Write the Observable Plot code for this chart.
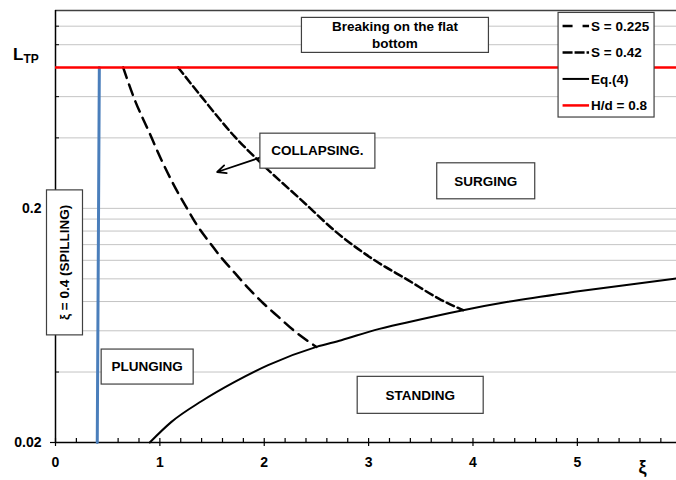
<!DOCTYPE html>
<html><head><meta charset="utf-8">
<script src="https://cdn.jsdelivr.net/npm/d3@7"></script>
<script src="https://cdn.jsdelivr.net/npm/@observablehq/plot@0.6"></script>
<style>body{margin:0;background:#fff} svg{display:block}</style>
</head><body><div id="chart"></div>
<script>
// ---- data ----
const xTicks = [0, 1, 2, 3, 4, 5];
const xMinor = [0.2,0.4,0.6,0.8,1.2,1.4,1.6,1.8,2.2,2.4,2.6,2.8,3.2,3.4,3.6,3.8,4.2,4.4,4.6,4.8,5.2,5.4,5.6,5.8];
const yTicks = [0.02, 0.2];
const yTickLabels = ["0.02", "0.2"];
const yGrid = [0.04,0.06,0.08,0.10,0.12,0.14,0.16,0.18,0.2,0.4,0.6,0.8,1.0,1.2];

const s225X = [0.648,0.760,0.888,1.015,1.143,1.262,1.357,1.485,1.597,1.724,1.852,1.995,2.139,2.283,2.5];
const s225Y = [0.8,0.58,0.432,0.322,0.247,0.1994,0.1692,0.1413,0.122,0.1052,0.0908,0.0783,0.0686,0.0602,0.0512];
const s42X = [1.175,1.398,1.717,1.973,2.356,2.708,3.058,3.378,3.697,3.905];
const s42Y = [0.8,0.60,0.405,0.311,0.217,0.156,0.120,0.0988,0.0812,0.0735];
const eq4X = [0.903,1.111,1.398,1.717,2.037,2.5,2.739,3.058,3.378,3.905,4.336,4.974,5.453,5.95];
const eq4Y = [0.02,0.0245,0.030,0.0363,0.0428,0.0512,0.0547,0.0604,0.0653,0.0735,0.0798,0.088,0.094,0.1003];
const spillX = [0.40, 0.42];
const spillY = [0.02, 0.8];
const hdY = 0.8;

const noteText = [["Breaking on the flat","bottom"],["COLLAPSING."],["SURGING"],["PLUNGING"],["STANDING"],["ξ = 0.4 (SPILLING)"]];
const noteX = [3.257, 2.514, 4.127, 0.883, 3.499, 0.091];
const noteY = [1.096, 0.351, 0.261, 0.042, 0.0318, 0.117];
const arrowFrom = [1.964, 0.330];
const arrowTo = [1.549, 0.286];

const legendLabels = ["S = 0.225", "S = 0.42", "Eq.(4)", "H/d = 0.8"];
const legendAnchor = [4.82, 1.367];

// ---- styles ----
const FONT = "'Liberation Sans', Arial, sans-serif";
const noteSize = [[187,35],[115,35],[98,36],[92,35],[126,37],[36,145]];
const noteRotate = [0,0,0,0,0,-90];
const legendStyles = [
  {stroke:"#000", dash:"10,10", width:2.5},
  {stroke:"#000", dash:"10,2", width:2.5},
  {stroke:"#000", dash:null, width:2},
  {stroke:"#ff0000", dash:null, width:2.5}
];

const rows = (xs, ys) => xs.map((x, i) => ({x, y: ys[i]}));

const plot = Plot.plot({
  width: 676, height: 480,
  marginLeft: 55, marginRight: 0, marginTop: 10, marginBottom: 38,
  x: {domain: [0, 5.95], axis: null},
  y: {type: "log", domain: [0.02, 1.4], axis: null},
  style: {fontFamily: FONT, fontWeight: "bold", color: "#000", background: "#fff"},
  marks: [
    Plot.ruleY(yGrid, {stroke: "#c4c4c4", strokeWidth: 1}),
    Plot.ruleY([1.4], {stroke: "#404040", strokeWidth: 1.5}),
    Plot.axisX({ticks: xMinor, tickSize: -4, tickFormat: () => "", strokeWidth: 1.2}),
    Plot.axisX({ticks: xTicks, tickSize: 4, tickPadding: 11, fontSize: 14, tickFormat: d => String(d), strokeWidth: 1.2}),
    Plot.axisX({ticks: xTicks, tickSize: -4, tickFormat: () => "", strokeWidth: 1.2}),
    Plot.axisY({ticks: yGrid, tickSize: -4, tickFormat: () => "", strokeWidth: 1}),
    Plot.axisY({ticks: yTicks, tickSize: 5, tickPadding: 9, fontSize: 14, tickFormat: d => yTickLabels[yTicks.indexOf(d)], strokeWidth: 1.2}),
    Plot.ruleY([0.02], {stroke: "#000", strokeWidth: 1.5}),
    Plot.ruleX([0], {stroke: "#000", strokeWidth: 1.5}),
    Plot.line(rows(spillX, spillY), {x: "x", y: "y", stroke: "#4a7ebb", strokeWidth: 3}),
    Plot.line(rows(s225X, s225Y), {x: "x", y: "y", stroke: "#000", strokeWidth: 2.5, strokeDasharray: "11,7", curve: "monotone-x"}),
    Plot.line(rows(s42X, s42Y), {x: "x", y: "y", stroke: "#000", strokeWidth: 2.5, strokeDasharray: "8,4", curve: "monotone-x"}),
    Plot.line(rows(eq4X, eq4Y), {x: "x", y: "y", stroke: "#000", strokeWidth: 2, curve: "monotone-x"}),
    Plot.ruleY([hdY], {stroke: "#ff0000", strokeWidth: 2.5}),
    Plot.arrow([{x1: arrowFrom[0], y1: arrowFrom[1], x2: arrowTo[0], y2: arrowTo[1]}],
      {x1: "x1", y1: "y1", x2: "x2", y2: "y2", stroke: "#000", strokeWidth: 1.8, headLength: 8, headAngle: 50, bend: 0})
  ]
});

const xs = plot.scale("x"), ys = plot.scale("y");
const svg = d3.select(plot);

// annotation boxes
const g = svg.append("g").attr("font-family", FONT).attr("font-weight", "bold").attr("font-size", 13.5);
noteText.forEach((lines, i) => {
  const cx = xs.apply(noteX[i]), cy = ys.apply(noteY[i]);
  const [w, h] = noteSize[i];
  const gg = g.append("g").attr("transform", `translate(${cx},${cy})`);
  gg.append("rect").attr("x", -w/2).attr("y", -h/2).attr("width", w).attr("height", h)
    .attr("fill", "#fff").attr("stroke", "#404040").attr("stroke-width", 1.2);
  const t = gg.append("text").attr("text-anchor", "middle").attr("transform", `rotate(${noteRotate[i]})`);
  const lh = 16.5;
  lines.forEach((s, j) => {
    t.append("tspan").attr("x", 0).attr("y", (j - (lines.length - 1) / 2) * lh).attr("dy", "0.35em").text(s);
  });
});

// legend
const lx = xs.apply(legendAnchor[0]), ly = ys.apply(legendAnchor[1]);
const lg = svg.append("g").attr("font-family", FONT).attr("font-weight", "bold").attr("font-size", 13.5)
  .attr("text-anchor", "start")
  .attr("transform", `translate(${lx},${ly})`);
lg.append("rect").attr("x", 0).attr("y", 0).attr("width", 96).attr("height", 104.6)
  .attr("fill", "#fff").attr("stroke", "#404040").attr("stroke-width", 1.2);
legendLabels.forEach((lab, i) => {
  const yy = 13.5 + i * 26.5;
  const st = legendStyles[i];
  lg.append("line").attr("x1", 4.5).attr("x2", 31).attr("y1", yy).attr("y2", yy)
    .attr("stroke", st.stroke).attr("stroke-width", st.width).attr("stroke-dasharray", st.dash);
  lg.append("text").attr("x", 33).attr("y", yy).attr("dy", "0.35em").attr("text-anchor", "start").text(lab);
});

// y-axis title L_TP
const title = svg.append("text").attr("font-family", FONT).attr("font-weight", "bold")
  .attr("text-anchor", "start")
  .attr("x", 13).attr("y", ys.apply(0.9) + 5);
title.append("tspan").attr("font-size", 17).text("L");
title.append("tspan").attr("font-size", 12).attr("dy", 3).text("TP");

// x-axis title ξ
svg.append("text").attr("font-family", FONT).attr("font-weight", "bold").attr("font-size", 18)
  .attr("x", xs.apply(5.63)).attr("y", 473).attr("text-anchor", "middle").text("ξ");

document.getElementById("chart").appendChild(plot);
</script>
</body></html>
